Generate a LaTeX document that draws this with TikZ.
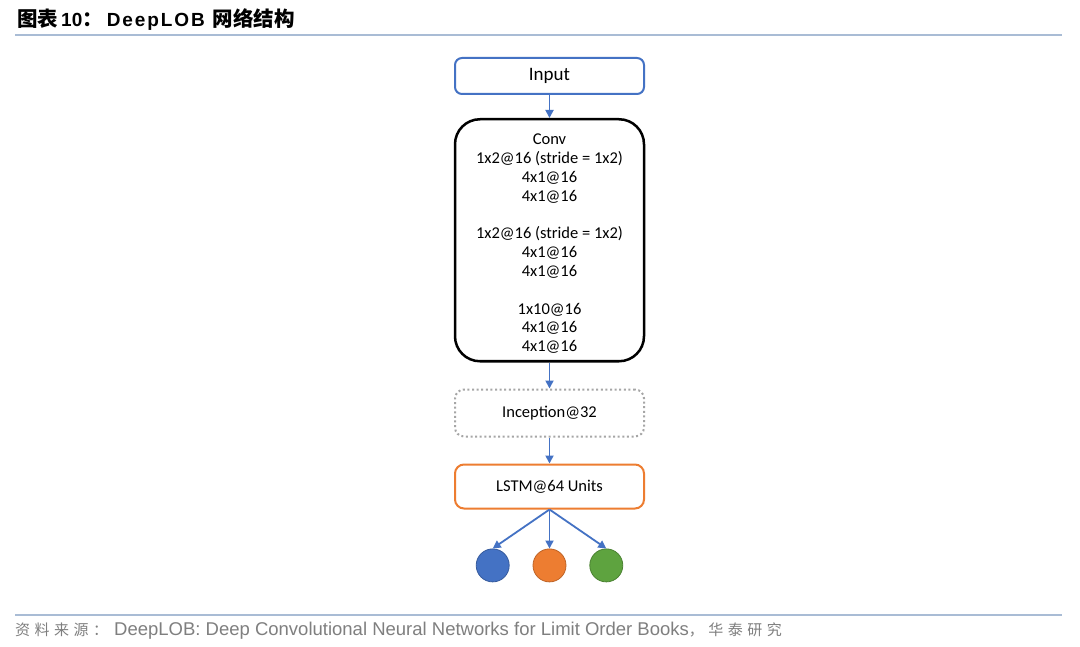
\documentclass[tikz,border=0pt]{standalone}
\usepackage{fontspec}
\setmainfont{Carlito}
\newfontfamily\cjk{Noto Sans CJK SC}
\newfontfamily\cjksp[LetterSpace=30]{Noto Sans CJK SC}
\newfontfamily\arialf{Liberation Sans}
\newfontfamily\arialsp[LetterSpace=10]{Liberation Sans}
\usetikzlibrary{positioning}
\usetikzlibrary{arrows.meta}

\definecolor{boxblue}{HTML}{4472C4}
\definecolor{boxorange}{HTML}{ED7D31}
\definecolor{boxgreen}{HTML}{5EA33F}
\definecolor{boxgrey}{HTML}{A6A6A6}
\definecolor{rulecol}{HTML}{A9BCD5}
\definecolor{srcgrey}{HTML}{7F7F7F}

\tikzset{
  block/.style={draw, rounded corners=7pt, minimum width=189pt, minimum height=36pt,
    line width=2pt, inner sep=0pt, align=center,
    font=\fontsize{16.5}{18.8}\selectfont},
  flow/.style={-{Triangle[length=8pt,width=8pt]}, draw=boxblue, line width=1.8pt},
  outnode/.style={circle, minimum size=33pt, inner sep=0pt, fill=#1,
    draw=#1!80!black, line width=0.8pt},
}

\begin{document}
\begin{tikzpicture}[x=1pt,y=-1pt]
\useasboundingbox[fill=white] (0,0) rectangle (1080,647);

% header and footer
\node[anchor=west, inner sep=0pt] (title) at (17,20)
  {\bfseries{\cjk\fontsize{20.5}{22}\selectfont 图表}\hspace{3pt}{\arialf\fontsize{19}{22}\selectfont 10}{\cjk\fontsize{20.5}{22}\selectfont ：}\hspace{4pt}{\arialsp\fontsize{19}{22}\selectfont DeepLOB}\hspace{8pt}{\cjk\fontsize{20.5}{22}\selectfont 网络结构}};
\draw[rulecol, line width=1.5pt] (15,35) -- (1062,35);
\draw[rulecol, line width=1.5pt] (15,615) -- (1062,615);
\node[anchor=west, inner sep=0pt, text=srcgrey] (source) at (15,631)
  {{\cjksp\fontsize{15}{17}\selectfont 资料来源：}\hspace{6pt}{\arialf\fontsize{18.5}{20}\selectfont DeepLOB: Deep Convolutional Neural Networks for Limit Order Books}{\cjksp\fontsize{15}{17}\selectfont ，华泰研究}};

% network
\node[block, draw=boxblue, font=\fontsize{19}{22}\selectfont] (input) at (549.5,76) {Input};
\node[block, below=23pt of input, draw=black, line width=2.5pt, rounded corners=25pt,
  minimum height=242pt] (conv)
  {\rule{0pt}{18pt}Conv\\ 1x2@16 (stride = 1x2)\\ 4x1@16\\ 4x1@16\\[18.8pt]
   1x2@16 (stride = 1x2)\\ 4x1@16\\ 4x1@16\\[18.8pt]
   1x10@16\\ 4x1@16\\ 4x1@16};
\node[block, below=26pt of conv, draw=boxgrey, dash pattern=on 2pt off 2.6pt,
  rounded corners=9pt, minimum height=47pt] (incep) {Inception@32};
\node[block, below=26pt of incep, draw=boxorange, rounded corners=9pt,
  minimum height=44pt] (lstm) {LSTM@64 Units};

\node[outnode=boxorange, below=39pt of lstm] (outB) {};
\node[outnode=boxblue, left=23pt of outB] (outA) {};
\node[outnode=boxgreen, right=23pt of outB] (outC) {};

\draw[flow] (input) -- (conv);
\draw[flow] (conv) -- (incep);
\draw[flow] (incep) -- (lstm);
\draw[flow] (lstm.south) -- (outA.north);
\draw[flow] (lstm.south) -- (outB.north);
\draw[flow] (lstm.south) -- (outC.north);
\end{tikzpicture}
\end{document}
